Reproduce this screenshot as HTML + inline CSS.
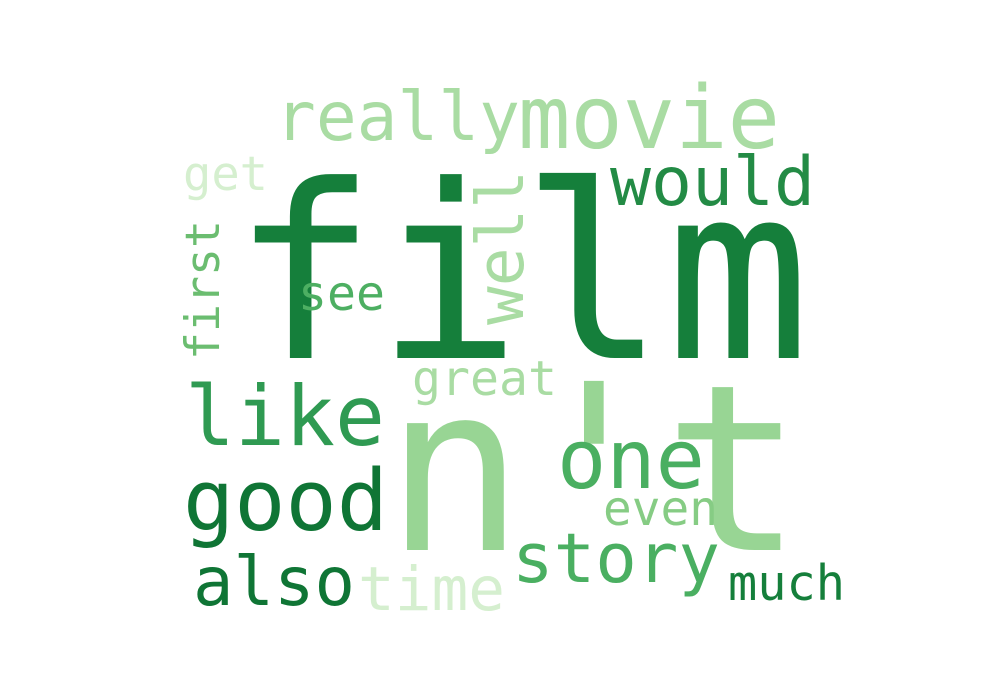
<!DOCTYPE html>
<html><head><meta charset="utf-8"><style>
html,body{margin:0;padding:0;background:#fff;width:1000px;height:700px;overflow:hidden}
text{font-family:"DejaVu Sans Mono","Liberation Mono",monospace}
</style></head><body>
<svg width="1000" height="700" viewBox="0 0 1000 700">
<rect width="1000" height="700" fill="#fff"/>
<text x="232" y="358" font-size="242" fill="#157f3b" textLength="578" lengthAdjust="spacingAndGlyphs">film</text>
<text x="385" y="550" font-size="232" fill="#98d594" textLength="418" lengthAdjust="spacingAndGlyphs">n't</text>
<text x="275" y="140" font-size="68" fill="#a9dca3" textLength="245" lengthAdjust="spacingAndGlyphs">really</text>
<text x="518" y="148" font-size="87" fill="#a9dca3" textLength="262" lengthAdjust="spacingAndGlyphs">movie</text>
<text x="610" y="205" font-size="68" fill="#238b45" textLength="205" lengthAdjust="spacingAndGlyphs">would</text>
<text x="183" y="190" font-size="47" fill="#d5efcf" textLength="85" lengthAdjust="spacingAndGlyphs">get</text>
<text x="0" y="0" font-size="65" fill="#a9dca3" textLength="155" lengthAdjust="spacingAndGlyphs" transform="translate(523,325) rotate(-90)">well</text>
<text x="0" y="0" font-size="47" fill="#6bbd70" textLength="140" lengthAdjust="spacingAndGlyphs" transform="translate(219,360) rotate(-90)">first</text>
<text x="298" y="310" font-size="48" fill="#4daf62" textLength="87" lengthAdjust="spacingAndGlyphs">see</text>
<text x="412" y="395" font-size="48" fill="#a9dca3" textLength="145" lengthAdjust="spacingAndGlyphs">great</text>
<text x="185" y="445" font-size="83" fill="#2f9a52" textLength="200" lengthAdjust="spacingAndGlyphs">like</text>
<text x="557" y="488" font-size="82" fill="#4aaf61" textLength="148" lengthAdjust="spacingAndGlyphs">one</text>
<text x="183" y="530" font-size="85" fill="#0f7535" textLength="205" lengthAdjust="spacingAndGlyphs">good</text>
<text x="603" y="525" font-size="48" fill="#86cc84" textLength="115" lengthAdjust="spacingAndGlyphs">even</text>
<text x="512" y="582" font-size="69" fill="#4aaf61" textLength="208" lengthAdjust="spacingAndGlyphs">story</text>
<text x="193" y="605" font-size="68" fill="#0f7535" textLength="162" lengthAdjust="spacingAndGlyphs">also</text>
<text x="358" y="610" font-size="61" fill="#d5efcf" textLength="147" lengthAdjust="spacingAndGlyphs">time</text>
<text x="728" y="600" font-size="49" fill="#157f3b" textLength="117" lengthAdjust="spacingAndGlyphs">much</text>
</svg>
</body></html>
